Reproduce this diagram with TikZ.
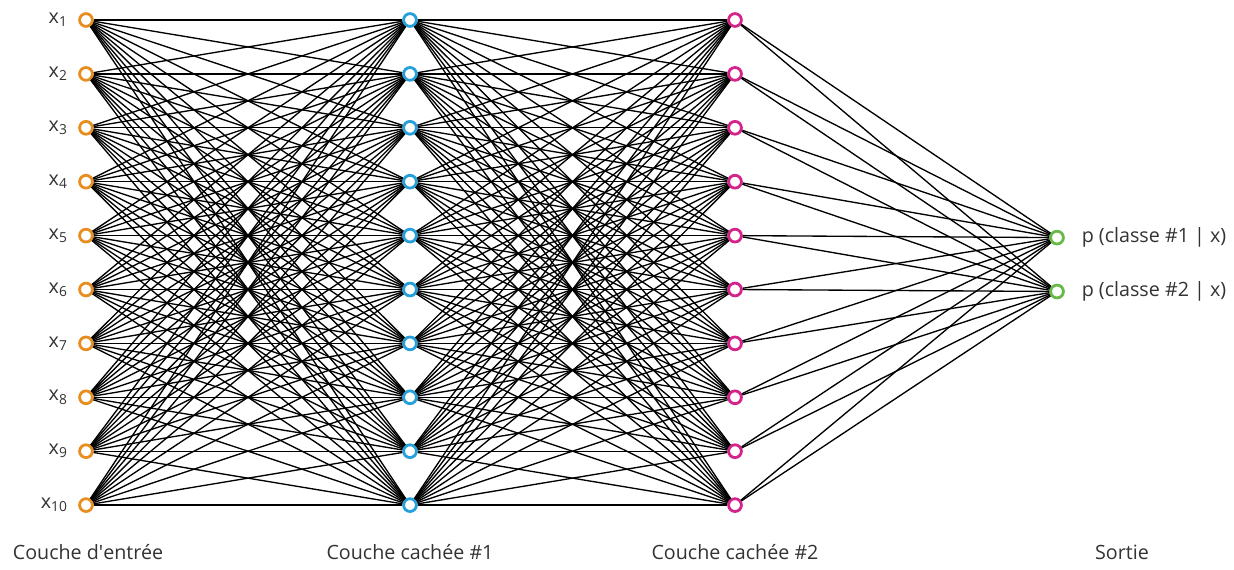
\documentclass[tikz,border=0pt]{standalone}
\usepackage{fontspec}
\setmainfont{Open Sans}
\usetikzlibrary{positioning}
\definecolor{inorange}{RGB}{232,142,32}
\definecolor{hidblue}{RGB}{38,160,218}
\definecolor{hidpink}{RGB}{212,36,140}
\definecolor{outgreen}{RGB}{104,186,72}
\begin{document}
\begin{tikzpicture}[x=0.025cm,y=-0.025cm,
    neuron/.style={circle,draw,line width=2pt,minimum size=0.32cm,inner sep=0pt,fill=white},
    syn/.style={line width=0.95pt,black},
    layername/.style={font=\fontsize{14}{16}\selectfont,text=black!80}]
  \useasboundingbox (0,0) rectangle (1234,570);
  % layers
  \foreach \i in {1,...,10} {
    \node[neuron,draw=inorange] (in\i) at (86,{20+(\i-1)*53.9}) {};
    \node[left=0.14cm of in\i,font=\fontsize{14}{16}\selectfont,text=black!80] (xl\i) {x\textsubscript{\i}};
    \node[neuron,draw=hidblue] (ha\i) at (410,{20+(\i-1)*53.9}) {};
    \node[neuron,draw=hidpink] (hb\i) at (735,{20+(\i-1)*53.9}) {};
  }
  \node[neuron,draw=outgreen] (out1) at (1057,237.6) {};
  \node[neuron,draw=outgreen] (out2) at (1057,291.5) {};
  \node[right=0.3cm of out1,layername] (pl1) {p (classe \#1 | x)};
  \node[right=0.3cm of out2,layername] (pl2) {p (classe \#2 | x)};
  % connections
  \begin{scope}[syn]
    \foreach \i in {1,...,10} {
      \foreach \j in {1,...,10} {
        \draw (in\i) to (ha\j);
        \draw (ha\i) to (hb\j);
      }
      \draw (hb\i) to (out1);
      \draw (hb\i) to (out2);
    }
  \end{scope}
  % layer names
  \node[layername] (n1) at (88,552) {Couche d\textquotesingle entrée};
  \node[layername] (n2) at (410,552) {Couche cachée \#1};
  \node[layername] (n3) at (735,552) {Couche cachée \#2};
  \node[layername] (n4) at (1122,552) {Sortie};
\end{tikzpicture}
\end{document}
